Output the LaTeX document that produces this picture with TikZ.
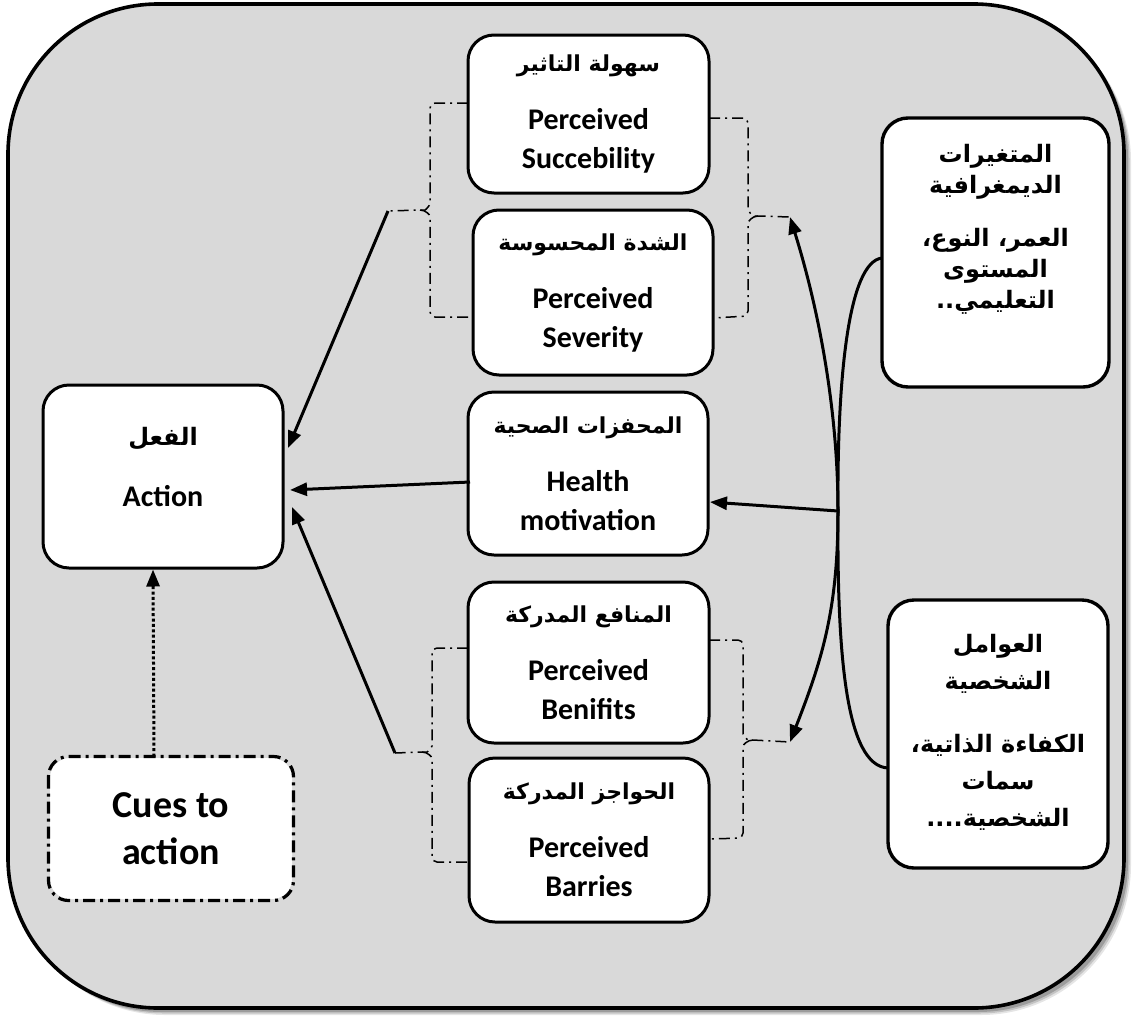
\documentclass[tikz,border=0pt]{standalone}
\usepackage{fontspec}
\setmainfont{Carlito}
\newfontfamily\arabicfont[Script=Arabic]{DejaVu Sans}
\TeXXeTstate=1
\usetikzlibrary{arrows.meta,calc}
\definecolor{framegray}{RGB}{217,217,217}
\newcommand\artext[1]{{\arabicfont\bfseries\fontsize{22}{26}\selectfont\beginR #1\endR}}
\tikzset{
  box/.style={draw, line width=3pt, fill=white, rounded corners=26pt,
    inner sep=0pt, align=center, font=\bfseries\fontsize{30}{39}\selectfont},
  sidebox/.style={box, line width=3.4pt},
  sidetext/.style={align=center, inner sep=0pt, font=\arabicfont\bfseries\fontsize{24}{34}\selectfont},
  brk/.style={line width=1.5pt, dash pattern=on 11pt off 5pt on 2pt off 5pt, rounded corners=5pt},
  arr/.style={line width=3pt, -{Triangle[length=17pt,width=13pt]}},
  link/.style={line width=3pt},
}
\begin{document}
\begin{tikzpicture}[x=1pt,y=-1pt]
\useasboundingbox (0,0) rectangle (1134,1017);
% outer frame with soft shadow
\foreach \o/\a in {7/0.10,5.5/0.15,4/0.2}{
  \fill[black, opacity=\a, rounded corners=150pt] (8+\o,4+\o) rectangle (1124+\o,1008+\o);}
\draw[line width=3.6pt, fill=framegray, rounded corners=150pt] (8,4) rectangle (1124,1008);

% central column
\node[box, minimum width=241, minimum height=158] (suc) at (588.5,114)
  {\artext{سهولة التاثير}\\[19pt] Perceived\\ Succebility};
\node[box, minimum width=240, minimum height=165] (sev) at (593,292.5)
  {\artext{الشدة المحسوسة}\\[19pt] Perceived\\ Severity};
\node[box, minimum width=240, minimum height=163] (hm) at (588,473.5)
  {\artext{المحفزات الصحية}\\[19pt] Health\\ motivation};
\node[box, minimum width=241, minimum height=161] (ben) at (588.5,662.5)
  {\artext{المنافع المدركة}\\[19pt] Perceived\\ Benifits};
\node[box, minimum width=240, minimum height=164] (bar) at (589,840)
  {\artext{الحواجز المدركة}\\[19pt] Perceived\\ Barries};

% left column
\node[box, minimum width=240, minimum height=183] (act) at (163,476.5) {};
\node[align=center, inner sep=0pt, font=\bfseries\fontsize{30}{39}\selectfont] (acttxt)
  at ($(act)+(0,-10)$) {{\arabicfont\bfseries\fontsize{24}{28}\selectfont\beginR الفعل\endR}\\[22pt] Action};
\node[box, draw=none, minimum width=242, minimum height=141, rounded corners=20pt,
  font=\bfseries\fontsize{38}{47}\selectfont] (cues) at (171,828.5) {Cues to\\ action};
\draw[line width=3.2pt, dash pattern=on 12pt off 5pt on 3pt off 5pt, rounded corners=20pt]
  (cues.north west) rectangle (cues.south east);

% right column
\node[sidebox, minimum width=227, minimum height=269] (demo) at (995.5,252.5) {};
\node[sidetext, anchor=north, font=\arabicfont\bfseries\fontsize{24}{31}\selectfont] (demotxt)
  at ($(demo.north)+(0,28)$)
  {\beginR المتغيرات\endR\\ \beginR الديمغرافية\endR\\[22pt]
   \beginR العمر، النوع،\endR\\ \beginR المستوى\endR\\ \beginR التعليمي..\endR};
\node[sidebox, minimum width=220, minimum height=268] (pers) at (998,734) {};
\node[sidetext, anchor=north, font=\arabicfont\bfseries\fontsize{24}{37}\selectfont] (perstxt)
  at ($(pers.north)+(0,36)$)
  {\beginR العوامل\endR\\ \beginR الشخصية\endR\\[26pt]
   \beginR الكفاءة الذاتية،\endR\\ \beginR سمات\endR\\ \beginR الشخصية....\endR};

% bracket ends and arrow tips
\coordinate (tlnub) at (388,211);
\coordinate (trnub) at (790,217);
\coordinate (blnub) at (395,753);
\coordinate (brnub) at (790,742);
\coordinate (actA) at (288,448);
\coordinate (actB) at (290,490);
\coordinate (actC) at (292,507);
\coordinate (hmin) at (710,502);
\coordinate (hmout) at (470,482);
\coordinate (hub) at (838,511);

% dash-dot brackets grouping the perceptions
\draw[brk] (468,103) -- (430,103) -- (430,199) to[out=-90,in=0] (420,210) -- (tlnub);
\draw[brk] (420,210) to[out=0,in=90] (430,221) -- (430,317) -- (473,317);
\draw[brk] (709,118) -- (748,118) -- (748,204) to[out=-90,in=180] (758,216) -- (trnub);
\draw[brk] (758,216) to[out=180,in=90] (748,228) -- (748,316) -- (713,318);
\draw[brk] (468,648) -- (432,648) -- (432,741) to[out=-90,in=0] (422,752) -- (blnub);
\draw[brk] (422,752) to[out=0,in=90] (432,763) -- (432,862) -- (470,862);
\draw[brk] (709,640) -- (743,640) -- (743,729) to[out=-90,in=180] (753,740) -- (brnub);
\draw[brk] (753,740) to[out=180,in=90] (743,751) -- (743,838) -- (709,839);

% connectors
\draw[arr] (tlnub) -- (actA);
\draw[arr] (hmout) -- (actB);
\draw[arr] (blnub) -- (actC);
\draw[line width=3pt, dash pattern=on 3pt off 2.4pt, -{Triangle[length=17pt,width=13pt]}]
  ($(cues.north)+(-17,0)$) -- ($(act.south)+(-10,0)$);
\draw[line width=3pt, {Triangle[length=17pt,width=13pt]}-{Triangle[length=17pt,width=13pt]}]
  (trnub) .. controls (822,320) and (838,420) .. (hub)
          .. controls (838,610) and (822,660) .. (brnub);
\draw[link] (882,258) .. controls (848,262) and (837,380) .. (hub)
            .. controls (837,650) and (845,766) .. (888,768);
\draw[arr] (hub) -- (hmin);
\end{tikzpicture}
\end{document}
